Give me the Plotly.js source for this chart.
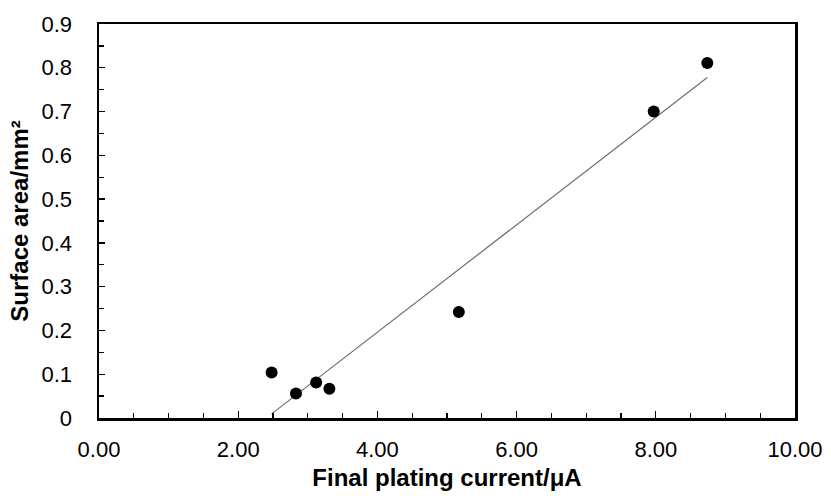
<!DOCTYPE html>
<html>
<head>
<meta charset="utf-8">
<script src="https://cdn.plot.ly/plotly-3.0.1.min.js"></script>
<style>html,body{margin:0;padding:0;background:#fff;}#chart{width:831px;height:496px;}</style>
</head>
<body>
<div id="chart"></div>
<script>
// Final plating current (µA) and surface area (mm²)
const currentUA = [2.48, 2.83, 3.12, 3.31, 5.17, 7.97, 8.74];
const surfaceArea = [0.104, 0.056, 0.081, 0.067, 0.242, 0.700, 0.811];
const xTickVals = [0, 2, 4, 6, 8, 10];
const xTickText = ["0.00", "2.00", "4.00", "6.00", "8.00", "10.00"];

// Linear least-squares trendline across the data range
const n = currentUA.length;
const mx = currentUA.reduce((a, b) => a + b, 0) / n;
const my = surfaceArea.reduce((a, b) => a + b, 0) / n;
let sxy = 0, sxx = 0;
for (let i = 0; i < n; i++) {
  sxy += (currentUA[i] - mx) * (surfaceArea[i] - my);
  sxx += (currentUA[i] - mx) * (currentUA[i] - mx);
}
const slope = sxy / sxx;
const intercept = my - slope * mx;
const xMin = Math.min(...currentUA), xMax = Math.max(...currentUA);
const trendX = [xMin, xMax];
const trendY = trendX.map(x => slope * x + intercept);

const fam = "Liberation Sans, Arial, sans-serif";

const data = [
  {x: trendX, y: trendY, mode: "lines", type: "scatter",
   line: {color: "#6e6e6e", width: 1.2}, hoverinfo: "skip", showlegend: false},
  {x: currentUA, y: surfaceArea, mode: "markers", type: "scatter",
   marker: {color: "#000", size: 12}, showlegend: false}
];

const layout = {
  width: 831, height: 496,
  margin: {l: 99, r: 36, t: 24, b: 78},
  paper_bgcolor: "#fff", plot_bgcolor: "#fff",
  font: {family: fam, size: 22, color: "#000"},
  xaxis: {
    range: [0, 10], tickvals: xTickVals, ticktext: xTickText,
    showgrid: false, zeroline: false,
    showline: true, linewidth: 2.5, linecolor: "#000", mirror: true,
    ticks: "inside", ticklen: 7, tickwidth: 1.3, tickcolor: "#000",
    minor: {dtick: 0.5, ticks: "inside", ticklen: 5, tickwidth: 1.3, tickcolor: "#000", showgrid: false},
    ticklabelstandoff: 10,
    tickfont: {family: fam, size: 22, color: "#000"},
    title: {text: "<b>Final plating current/μA</b>", font: {family: fam, size: 24, color: "#000"}, standoff: 9}
  },
  yaxis: {
    range: [0, 0.9], dtick: 0.1, tick0: 0,
    showgrid: false, zeroline: false,
    showline: true, linewidth: 2.5, linecolor: "#000", mirror: true,
    ticks: "inside", ticklen: 6, tickwidth: 1.3, tickcolor: "#000",
    minor: {dtick: 0.05, ticks: "inside", ticklen: 5, tickwidth: 1.3, tickcolor: "#000", showgrid: false},
    ticklabelstandoff: 20,
    tickfont: {family: fam, size: 22, color: "#000"},
    title: {text: "<b>Surface area/mm²</b>", font: {family: fam, size: 24, color: "#000"}, standoff: 6}
  }
};

Plotly.newPlot("chart", data, layout, {staticPlot: true, displayModeBar: false});
</script>
</body>
</html>
